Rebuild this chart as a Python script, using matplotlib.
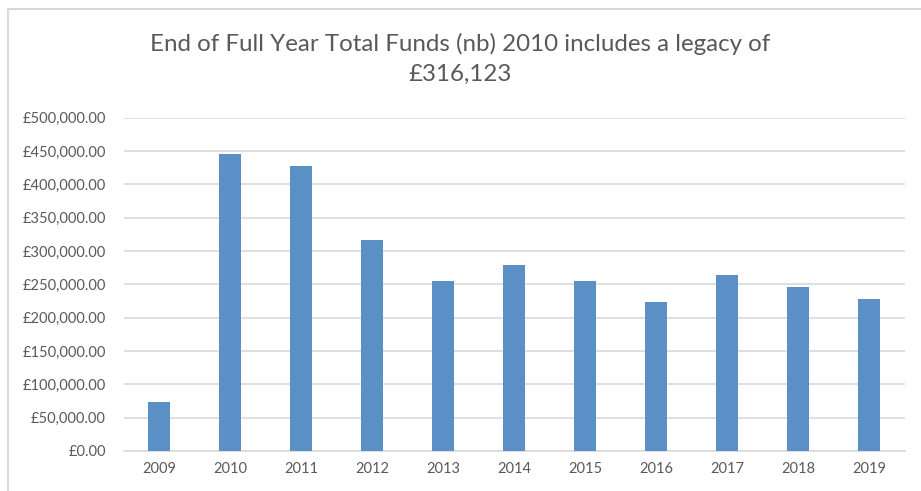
import matplotlib.pyplot as plt
from matplotlib.lines import Line2D
from matplotlib.ticker import FuncFormatter

plt.rcParams['font.family'] = ['Lato', 'DejaVu Sans']

# Data
years = ['2009', '2010', '2011', '2012', '2013', '2014', '2015', '2016', '2017', '2018', '2019']
funds = [73000, 445000, 428000, 316000, 254500, 279500, 254500, 223500, 264500, 246500, 227500]
y_ticks = [0, 50000, 100000, 150000, 200000, 250000, 300000, 350000, 400000, 450000, 500000]

bar_color = '#5B90C6'
grid_color = '#D9D9D9'
text_color = '#595959'

fig = plt.figure(figsize=(9.21, 4.91), dpi=100)
ax = fig.add_axes([0.1346, 0.0815, 0.848, 0.6788])

x = range(len(years))
ax.bar(x, funds, width=0.31, color=bar_color, zorder=3)

ax.set_xlim(-0.5, len(years) - 0.5)
ax.set_ylim(0, 500000)
ax.set_yticks(y_ticks)
ax.yaxis.set_major_formatter(FuncFormatter(lambda v, p: '£{:,.2f}'.format(v)))
ax.set_xticks(list(x))
ax.set_xticklabels(years)

ax.grid(axis='y', color=grid_color, linewidth=1.2, zorder=0)
for s in ['top', 'right', 'left']:
    ax.spines[s].set_visible(False)
ax.spines['bottom'].set_color(grid_color)
ax.spines['bottom'].set_linewidth(1.2)
ax.tick_params(axis='both', length=0, colors=text_color, labelsize=10.5)
ax.tick_params(axis='y', pad=13)
ax.tick_params(axis='x', pad=8)

# title (two lines, centred on the figure)
fig.text(0.5, 1 - 44 / 491, 'End of Full Year Total Funds (nb) 2010 includes a legacy of',
         ha='center', va='center', fontsize=17.4, color=text_color)
fig.text(0.5, 1 - 74 / 491, '£316,123',
         ha='center', va='center', fontsize=17.4, color=text_color)

# chart area border (left and top edges visible)
fig.add_artist(Line2D([7.5 / 921, 7.5 / 921], [0, 1 - 8.5 / 491],
                      transform=fig.transFigure, color=grid_color, linewidth=1.5))
fig.add_artist(Line2D([7.5 / 921, 1], [1 - 8.5 / 491, 1 - 8.5 / 491],
                      transform=fig.transFigure, color=grid_color, linewidth=1.5))

plt.savefig('out.png', dpi=100)
